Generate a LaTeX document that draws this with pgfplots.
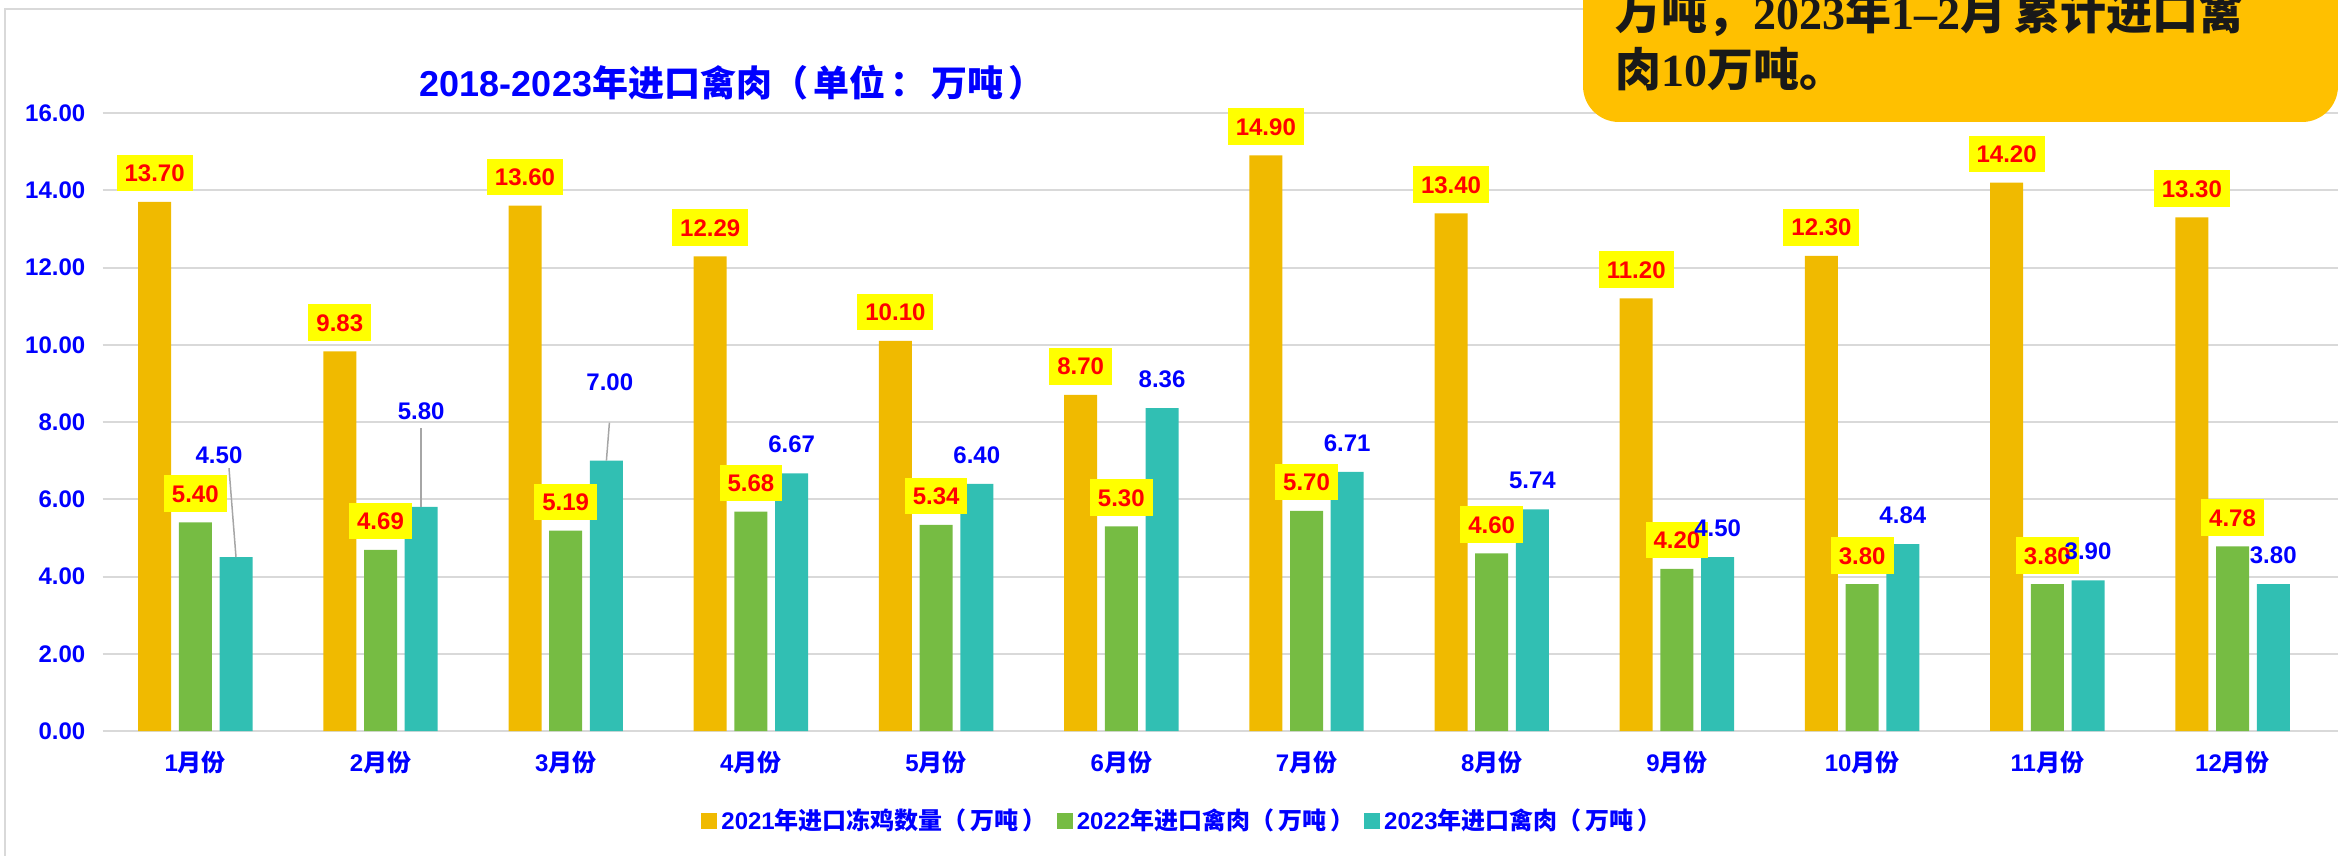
\documentclass[border=0pt]{standalone}
\usepackage{fontspec}
\setmainfont{Liberation Sans}
\newfontfamily\cjk{Noto Sans CJK SC}
\newfontfamily\serifnum{Liberation Serif}
\usepackage{pgfplots}
\pgfplotsset{compat=1.18}
\usepackage{pgfplotstable}

\definecolor{corange}{HTML}{F0BA00}
\definecolor{cgreen}{HTML}{76BC43}
\definecolor{cteal}{HTML}{31BFB3}
\definecolor{cgrid}{HTML}{D9D9D9}
\definecolor{cblue}{HTML}{0000FF}
\definecolor{cred}{HTML}{FF0000}
\definecolor{cyellow}{HTML}{FFFF00}
\definecolor{ccallout}{HTML}{FFC000}
\definecolor{cline}{HTML}{A6A6A6}

\pgfplotstableread{
x y
0 13.70
1 9.83
2 13.60
3 12.29
4 10.10
5 8.70
6 14.90
7 13.40
8 11.20
9 12.30
10 14.20
11 13.30
}\orangedata

\pgfplotstableread{
x y
0 5.40
1 4.69
2 5.19
3 5.68
4 5.34
5 5.30
6 5.70
7 4.60
8 4.20
9 3.80
10 3.80
11 4.78
}\greendata

\pgfplotstableread{
x y dx dy
0 4.50 -8.5 51
1 5.80 0 47.75
2 7.00 1.7 39.3
3 6.67 0 14.5
4 6.40 0 14.5
5 8.36 0 14.5
6 6.71 0 14.5
7 5.74 0 14.5
8 4.50 0 14.5
9 4.84 0 14.5
10 3.90 0 14.5
11 3.80 0 14.5
}\tealdata

\pgfplotsset{
  boxlabel/.style={
    nodes near coords,
    every node near coord/.append style={anchor=south, yshift=5pt, fill=cyellow, text=cred,
      font=\fontsize{12}{12}\selectfont\bfseries, inner xsep=4pt, inner ysep=4.85pt,
      text height=8.6pt, text depth=0pt}
  }
}
\newcommand\ps{\hspace{2pt}}

\begin{document}
\begin{tikzpicture}
\useasboundingbox (0,0) rectangle (1169pt,-428pt);
\clip (0,0) rectangle (1169pt,-428pt);
\draw[cgrid, line width=1pt] (2.5pt,-440pt) -- (2.5pt,-4.5pt) -- (1180pt,-4.5pt);

\begin{axis}[
  at={(51.35pt,-365.5pt)}, anchor=south west,
  scale only axis, width=1117.7pt, height=309pt,
  xmin=-0.5, xmax=11.57, ymin=0, ymax=16,
  ybar, bar width=16.5pt,
  ytick={0,2,...,16},
  xtick={0,...,11},
  xticklabels={{1{\cjk 月份}},{2{\cjk 月份}},{3{\cjk 月份}},{4{\cjk 月份}},{5{\cjk 月份}},{6{\cjk 月份}},{7{\cjk 月份}},{8{\cjk 月份}},{9{\cjk 月份}},{10{\cjk 月份}},{11{\cjk 月份}},{12{\cjk 月份}}},
  axis line style={draw=none},
  major tick length=0pt,
  ymajorgrids, grid style={cgrid, line width=1pt},
  /pgf/number format/fixed, /pgf/number format/fixed zerofill, /pgf/number format/precision=2,
  /pgf/number format/assume math mode=true,
  yticklabel style={font=\fontsize{12}{12}\selectfont\bfseries, text=cblue, anchor=east, inner sep=0pt, xshift=-8.5pt},
  xticklabel style={font=\fontsize{12}{12}\selectfont\bfseries, text=cblue, anchor=base, inner sep=0pt, yshift=-20.3pt},
  clip=false,
  legend style={at={(0.4835,-0.1456)}, anchor=center, draw=none, fill=none,
    font=\fontsize{12}{12}\selectfont\bfseries, text=cblue, legend columns=3,
    /tikz/every even column/.append style={column sep=3pt}},
  legend image code/.code={\fill[#1, draw=none] (0pt,-4pt) rectangle (8pt,4pt);},
]
\addplot[fill=corange, draw=none, bar shift=-20.35pt, boxlabel] table[x=x,y=y] {\orangedata};
\addlegendentry{2021{\cjk 年进口冻鸡数量（\ps 万吨\ps ）}}
\addplot[fill=cgreen, draw=none, bar shift=0pt, boxlabel] table[x=x,y=y] {\greendata};
\addlegendentry{2022{\cjk 年进口禽肉（\ps 万吨\ps ）}}
\addplot[fill=cteal, draw=none, bar shift=20.35pt,
  visualization depends on={\thisrow{dx} \as \dx},
  visualization depends on={\thisrow{dy} \as \dy},
  nodes near coords,
  every node near coord/.append style={anchor=center, xshift=\dx pt, yshift=\dy pt, text=cblue,
    font=\fontsize{12}{12}\selectfont\bfseries, inner sep=0pt}] table[x=x,y=y] {\tealdata};
\addlegendentry{2023{\cjk 年进口禽肉（\ps 万吨\ps ）}}
\draw[cline, line width=0.75pt] ([xshift=20.35pt]axis cs:0,4.5) -- ([xshift=16.85pt,yshift=44.5pt]axis cs:0,4.5);
\draw[cline, line width=0.75pt] ([xshift=20.35pt]axis cs:1,5.8) -- ([xshift=20.35pt,yshift=39.5pt]axis cs:1,5.8);
\draw[cline, line width=0.75pt] ([xshift=20.35pt]axis cs:2,7.0) -- ([xshift=21.85pt,yshift=19pt]axis cs:2,7.0);
\end{axis}

\node[anchor=base, font=\fontsize{18}{18}\selectfont\bfseries, text=cblue, inner sep=0pt] at (366pt,-48.5pt) {2018-2023{\cjk 年进口禽肉（\hspace{2.5pt}单位\hspace{2.5pt}：\hspace{2.5pt}万吨\hspace{2.5pt}）}};

\fill[ccallout, rounded corners=18pt] (791.5pt,30pt) rectangle (1169pt,-61pt);
\node[anchor=base west, inner sep=0pt, font=\fontsize{23}{23}\selectfont\bfseries, text=black!90] at (807.5pt,-15pt) {{\cjk 万吨，}{\serifnum 2023}{\cjk 年}{\serifnum 1–2}{\cjk 月}\,{\cjk 累计进口禽}};
\node[anchor=base west, inner sep=0pt, font=\fontsize{23}{23}\selectfont\bfseries, text=black!90] at (807.5pt,-43.4pt) {{\cjk 肉}{\serifnum 10}{\cjk 万吨。}};
\end{tikzpicture}
\end{document}
